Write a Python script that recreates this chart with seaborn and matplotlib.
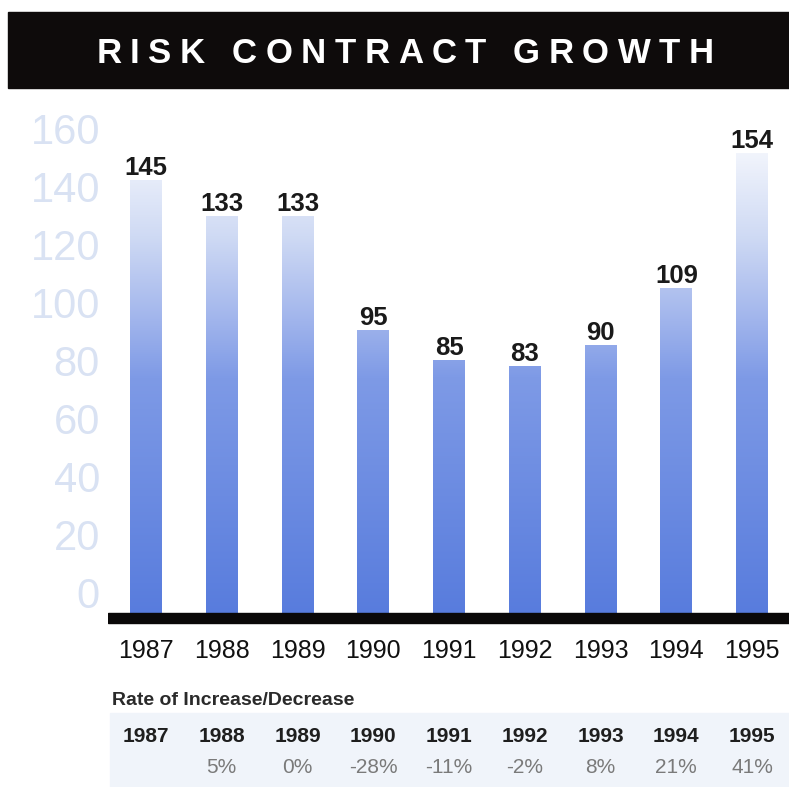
import numpy as np
import pandas as pd
import matplotlib
matplotlib.use("Agg")
import matplotlib.pyplot as plt
import seaborn as sns
from matplotlib.colors import LinearSegmentedColormap
from matplotlib.patches import Rectangle
from matplotlib import transforms

# ---- data ----
years = ["1987", "1988", "1989", "1990", "1991", "1992", "1993", "1994", "1995"]
contracts = [145, 133, 133, 95, 85, 83, 90, 109, 154]
rate_labels = ["", "5%", "0%", "-28%", "-11%", "-2%", "8%", "21%", "41%"]
y_ticks = [0, 20, 40, 60, 80, 100, 120, 140, 160]
title = "RISK CONTRACT GROWTH"
subtitle = "Rate of Increase/Decrease"

W, H, DPI = 789, 787, 100

sns.set_theme(style="white")
plt.rcParams["font.family"] = ["Liberation Sans", "DejaVu Sans"]
NARROW = ["Liberation Sans Narrow", "Liberation Sans", "DejaVu Sans"]

fig = plt.figure(figsize=(W / DPI, H / DPI), dpi=DPI)
fig.patch.set_facecolor("white")


def fx(px):
    return px / W


def fy(py):
    return 1 - py / H


# ---- title band ----
fig.patches.append(Rectangle((fx(8), fy(88)), fx(789) - fx(8), fy(12) - fy(88),
                             transform=fig.transFigure, color="#0e0b0b", zorder=0))
renderer = fig.canvas.get_renderer()
tracking = 8.5
chars = []
for ch in title:
    t = fig.text(0, fy(63), ch, color="white", fontsize=25, fontweight="bold",
                 ha="left", va="baseline")
    chars.append(t)
widths = [c.get_window_extent(renderer).width if c.get_text() != " " else 9.7 for c in chars]
total = sum(widths) + tracking * (len(widths) - 1)
x = 405 - total / 2
for c, w in zip(chars, widths):
    c.set_x(fx(x))
    x += w + tracking

# ---- bar chart ----
L, R, T, B = 108, 790, 100, 630
rect = [fx(L), fy(B), fx(R) - fx(L), fy(T) - fy(B)]
ax = fig.add_axes(rect)
df = pd.DataFrame({"year": years, "contracts": contracts})
sns.barplot(data=df, x="year", y="contracts", ax=ax, width=0.42,
            color="#5a7ddd", saturation=1)

# vertical fade keyed to the value scale: deep blue at zero, near white at the top
cmap = LinearSegmentedColormap.from_list(
    "risk", [(0.0, "#587cdd"), (0.5, "#7e9ae6"), (0.62, "#a0b4ec"),
             (0.8, "#cfdaf4"), (1.0, "#f6f8fd")])
grad = np.linspace(0, 1, 256).reshape(-1, 1)
for patch in ax.patches:
    x0 = patch.get_x()
    x1 = x0 + patch.get_width()
    im = ax.imshow(grad, extent=(x0, x1, 0, 158), origin="lower", cmap=cmap,
                   aspect="auto", zorder=2)
    im.set_clip_path(patch)
    patch.set_facecolor("none")
    patch.set_edgecolor("none")

for i, v in enumerate(contracts):
    ax.text(i, v + 1.8, str(v), ha="center", va="baseline", fontsize=18.5,
            fontweight="bold", color="#1a1a1a", zorder=4)

ax.axhspan(-2.7, 0.7, color="#0a0808", zorder=5)
ax.set_xlim(-0.5, 8.5)
ax.set_ylim(-5, -5 + (B - T) / 3)
ax.set_yticks([])
ax.set_xticks(range(len(years)))
ax.set_xticklabels(years, fontsize=18, family=NARROW, color="#111111")
ax.tick_params(axis="x", length=0, pad=6.5)
ax.set_xlabel("")
ax.set_ylabel("")
ax.patch.set_visible(False)
for s in ax.spines.values():
    s.set_visible(False)

# faint value scale on the left
ax_t = fig.add_axes(rect, zorder=-1)
scale = (593 - 128) / 160
ax_t.set_ylim(-(B - 593) / scale, 160 + (128 - T) / scale)
ax_t.set_yticks(y_ticks)
ax_t.set_yticklabels([str(v) for v in y_ticks], fontsize=30, color="#d9e2f3")
ax_t.tick_params(axis="y", length=0, pad=5.8)
ax_t.set_xticks([])
ax_t.patch.set_visible(False)
for s in ax_t.spines.values():
    s.set_visible(False)

# ---- rate table ----
fig.text(fx(112), fy(705), subtitle, fontsize=14, fontweight="bold",
         family=NARROW, color="#2a2a2a", ha="left", va="baseline")
fig.patches.append(Rectangle((fx(110), fy(787)), fx(789) - fx(110), fy(713) - fy(787),
                             transform=fig.transFigure, color="#f0f4fa", zorder=0))
tr = transforms.blended_transform_factory(ax.transData, fig.transFigure)
for i, (yr, rl) in enumerate(zip(years, rate_labels)):
    fig.text(i, fy(742), yr, transform=tr, fontsize=15, fontweight="bold",
             family=NARROW, color="#1e1e1e", ha="center", va="baseline")
    if rl:
        fig.text(i, fy(773), rl, transform=tr, fontsize=15, family=NARROW,
                 color="#7a7a7a", ha="center", va="baseline")

fig.savefig("out.png", dpi=DPI)
